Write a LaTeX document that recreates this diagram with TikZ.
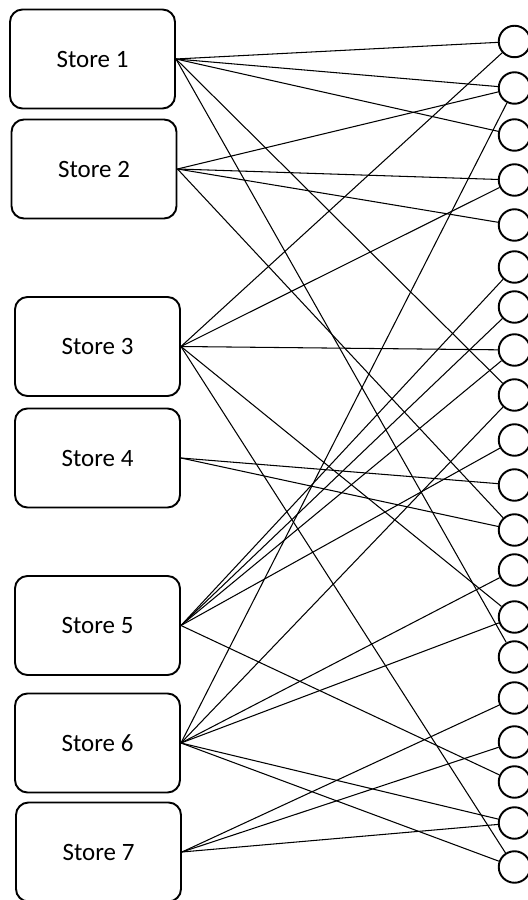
\documentclass[tikz,border=0pt]{standalone}
\usepackage{fontspec}
\setmainfont{Carlito}

\tikzset{
  store/.style={draw=black,line width=1.1pt,rounded corners=0.25cm,minimum width=3.3cm,minimum height=1.98cm,font=\fontsize{14.2}{17}\selectfont},
  slot/.style={draw=black,line width=1.1pt,circle,minimum size=0.63cm,inner sep=0pt},
  link/.style={draw=black,line width=0.6pt}
}

\begin{document}
\begin{tikzpicture}

\useasboundingbox (0,0) rectangle (10.56,18);

%stores
\node[store] (s1) at (1.85,16.82) {Store 1};
\node[store] (s2) at (1.88,14.62) {Store 2};
\node[store] (s3) at (1.95,11.07) {Store 3};
\node[store] (s4) at (1.95,8.84) {Store 4};
\node[store] (s5) at (1.95,5.49) {Store 5};
\node[store] (s6) at (1.95,3.14) {Store 6};
\node[store] (s7) at (1.97,0.96) {Store 7};

%slots
\node[slot] (c1) at (10.29,17.17) {};
\node[slot] (c2) at (10.29,16.24) {};
\node[slot] (c3) at (10.29,15.30) {};
\node[slot] (c4) at (10.29,14.40) {};
\node[slot] (c5) at (10.29,13.50) {};
\node[slot] (c6) at (10.29,12.66) {};
\node[slot] (c7) at (10.29,11.86) {};
\node[slot] (c8) at (10.29,11.00) {};
\node[slot] (c9) at (10.29,10.10) {};
\node[slot] (c10) at (10.29,9.20) {};
\node[slot] (c11) at (10.29,8.30) {};
\node[slot] (c12) at (10.29,7.40) {};
\node[slot] (c13) at (10.29,6.60) {};
\node[slot] (c14) at (10.29,5.66) {};
\node[slot] (c15) at (10.29,4.86) {};
\node[slot] (c16) at (10.29,4.04) {};
\node[slot] (c17) at (10.29,3.16) {};
\node[slot] (c18) at (10.29,2.36) {};
\node[slot] (c19) at (10.29,1.54) {};
\node[slot] (c20) at (10.29,0.66) {};

%store 1
\path[link] (s1.east) -- (c1);
\path[link] (s1.east) -- (c2);
\path[link] (s1.east) -- (c3);
\path[link] (s1.east) -- (c9);
\path[link] (s1.east) -- (c15);

%store 2
\path[link] (s2.east) -- (c2);
\path[link] (s2.east) -- (c4);
\path[link] (s2.east) -- (c5);
\path[link] (s2.east) -- (c12);

%store 3
\path[link] (s3.east) -- (c1);
\path[link] (s3.east) -- (c4);
\path[link] (s3.east) -- (c8);
\path[link] (s3.east) -- (c14);
\path[link] (s3.east) -- (c20);

%store 4
\path[link] (s4.east) -- (c11);
\path[link] (s4.east) -- (c12);

%store 5
\path[link] (s5.east) -- (c6);
\path[link] (s5.east) -- (c7);
\path[link] (s5.east) -- (c8);
\path[link] (s5.east) -- (c10);
\path[link] (s5.east) -- (c18);

%store 6
\path[link] (s6.east) -- (c2);
\path[link] (s6.east) -- (c9);
\path[link] (s6.east) -- (c13);
\path[link] (s6.east) -- (c14);
\path[link] (s6.east) -- (c19);
\path[link] (s6.east) -- (c20);

%store 7
\path[link] (s7.east) -- (c16);
\path[link] (s7.east) -- (c17);
\path[link] (s7.east) -- (c19);

\end{tikzpicture}
\end{document}
